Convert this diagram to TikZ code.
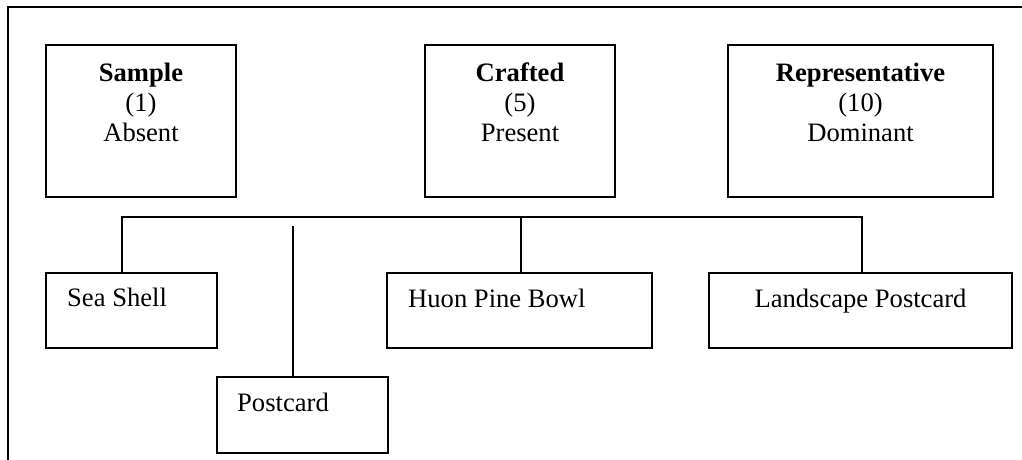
\documentclass[tikz,border=0pt]{standalone}
\usepackage{fontspec}
\setmainfont{Liberation Serif}
\begin{document}
\begin{tikzpicture}[x=1pt,y=-1pt,
  card/.style 2 args={draw, line width=2pt, inner sep=0pt,
    minimum width=#1, minimum height=#2},
  link/.style={line width=2pt},
  frame/.style={line width=2.6pt},
  txt/.style={inner sep=0pt, font=\fontsize{26.6pt}{30pt}\selectfont},
]
\useasboundingbox (0,0) rectangle (1022,460);

% outer frame (top and left edges)
\draw[frame] (8,470) -- (8,7) -- (1030,7);

% top row: the three categories
\node[card={190pt}{152pt}] (sample)   at (141,121)   {};
\node[card={190pt}{152pt}] (crafted)  at (520,121)   {};
\node[card={265pt}{152pt}] (repr)     at (860.5,121) {};

% multi-line labels sit on the baseline of their last line
\node[txt, align=center, anchor=base] at ([yshift=-97pt]sample.north)
  {\textbf{Sample}\\(1)\\Absent};
\node[txt, align=center, anchor=base] at ([yshift=-97pt]crafted.north)
  {\textbf{Crafted}\\(5)\\Present};
\node[txt, align=center, anchor=base] at ([yshift=-97pt]repr.north)
  {\textbf{Representative}\\(10)\\Dominant};

% bottom row: the objects
\node[card={171pt}{75pt}] (seashell)  at (131.5,310.5) {};
\node[card={171pt}{76pt}] (postcard)  at (302.5,415)   {};
\node[card={265pt}{75pt}] (huon)      at (519.5,310.5) {};
\node[card={303pt}{75pt}] (landscape) at (860.5,310.5) {};

\node[txt, anchor=base west] at ([shift={(22pt,-34pt)}]seashell.north west) {Sea Shell};
\node[txt, anchor=base west] at ([shift={(21pt,-35pt)}]postcard.north west) {Postcard};
\node[txt, anchor=base west] at ([shift={(22pt,-35pt)}]huon.north west) {Huon Pine Bowl};
\node[txt, anchor=base] at ([yshift=-35pt]landscape.north) {Landscape Postcard};

% connectors
\coordinate (bar) at (0,217);
\coordinate (ptop) at (293,226);
\draw[link] ([xshift=-9.5pt]seashell.north) |- ([xshift=1.5pt]bar -| landscape.north)
  -- ([xshift=1.5pt]landscape.north);
\draw[link] ([xshift=1.5pt]huon.north) -- ([xshift=1.5pt]huon.north |- bar);
\draw[link] (postcard.north -| ptop) -- (ptop);
\end{tikzpicture}
\end{document}
